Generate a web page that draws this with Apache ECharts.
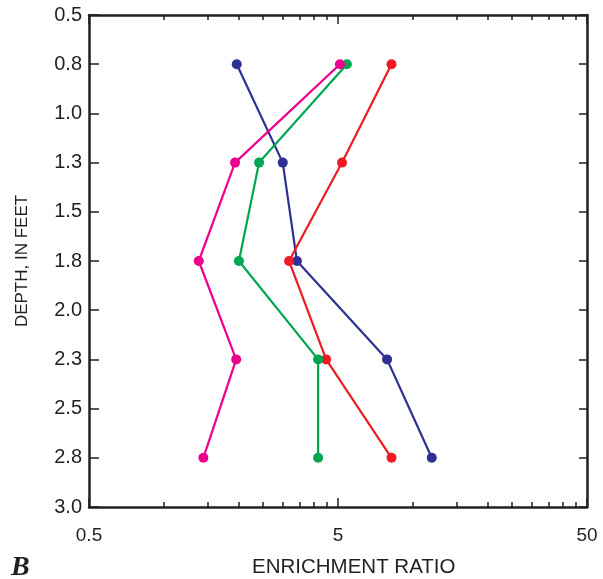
<!DOCTYPE html>
<html>
<head>
<meta charset="utf-8">
<script src="https://cdn.jsdelivr.net/npm/echarts@6/dist/echarts.min.js"></script>
<style>
  html, body { margin: 0; padding: 0; background: #fff; }
  #chart { width: 603px; height: 579px; }
</style>
</head>
<body>
<div id="chart"></div>
<script>
// Sampling depths (feet) and enrichment ratios for each series
const depths = [0.75, 1.25, 1.75, 2.25, 2.75];
const blueRatio = [1.96, 3.0, 3.42, 7.87, 11.9];
const redRatio = [8.2, 5.19, 3.18, 4.48, 8.2];
const greenRatio = [5.43, 2.41, 2.0, 4.16, 4.16];
const magentaRatio = [5.09, 1.93, 1.38, 1.95, 1.44];

// Axis ticks and labels
const depthTickLabels = ['0.5', '0.8', '1.0', '1.3', '1.5', '1.8', '2.0', '2.3', '2.5', '2.8', '3.0'];
const ratioLabels = [0.5, 5, 50];
const ratioMinorTicks = [1, 1.5, 2, 2.5, 3, 3.5, 4, 4.5, 10, 15, 20, 25, 30, 35, 40, 45];

const ink = '#231f20';
const font = '"Liberation Sans", Arial, sans-serif';

function pairs(vals) {
  return vals.map((v, i) => [v, depths[i]]);
}

function xAxisDef(position, major, showLabels) {
  return {
    type: 'log',
    logBase: 10,
    position: position,
    min: 0.5,
    max: 50,
    splitLine: { show: false },
    axisLine: { show: major, lineStyle: { color: ink, width: 2.5 } },
    axisTick: {
      show: true,
      inside: true,
      length: major ? 9 : 5,
      lineStyle: { color: ink, width: 1.5 },
      customValues: major ? ratioLabels : ratioMinorTicks
    },
    axisLabel: {
      show: showLabels,
      customValues: ratioLabels,
      margin: 19,
      color: ink,
      fontFamily: font,
      fontSize: 19,
      formatter: v => String(v)
    }
  };
}

function yAxisDef(position, showLabels) {
  return {
    type: 'value',
    position: position,
    inverse: true,
    min: 0.5,
    max: 3.0,
    interval: 0.25,
    splitLine: { show: false },
    axisLine: { show: true, lineStyle: { color: ink, width: 2.5 } },
    axisTick: { show: true, inside: true, length: showLabels ? 10 : 8, lineStyle: { color: ink, width: 1.5 } },
    axisLabel: {
      show: showLabels,
      margin: 7,
      color: ink,
      fontFamily: font,
      fontSize: 20,
      formatter: (v, i) => depthTickLabels[i]
    },
    name: showLabels ? 'DEPTH, IN FEET' : '',
    nameLocation: 'middle',
    nameGap: 58,
    nameRotate: 90,
    nameTextStyle: { color: ink, fontFamily: font, fontSize: 17 }
  };
}

function lineSeries(name, color, vals) {
  return {
    name: name,
    type: 'line',
    xAxisIndex: 0,
    yAxisIndex: 0,
    data: pairs(vals),
    symbol: 'circle',
    symbolSize: 10,
    lineStyle: { color: color, width: 2.2 },
    itemStyle: { color: color },
    silent: true,
    animation: false
  };
}

const chart = echarts.init(document.getElementById('chart'), null, { renderer: 'canvas' });
chart.setOption({
  animation: false,
  backgroundColor: '#ffffff',
  grid: { left: 89, right: 16, top: 15, bottom: 72, containLabel: false },
  xAxis: [
    xAxisDef('bottom', true, true),
    xAxisDef('bottom', false, false),
    xAxisDef('top', true, false),
    xAxisDef('top', false, false)
  ],
  yAxis: [
    yAxisDef('left', true),
    yAxisDef('right', false)
  ],
  series: [
    lineSeries('blue', '#2e3192', blueRatio),
    lineSeries('red', '#ed1c24', redRatio),
    lineSeries('green', '#00a651', greenRatio),
    lineSeries('magenta', '#ec008c', magentaRatio)
  ],
  graphic: [
    {
      type: 'text',
      left: 252,
      top: 557,
      style: { text: 'ENRICHMENT RATIO', fill: ink, font: '20.5px ' + font }
    },
    {
      type: 'text',
      left: 11,
      top: 554,
      style: { text: 'B', fill: ink, font: 'italic bold 28px "Liberation Serif", "DejaVu Serif", serif' }
    }
  ]
});
</script>
</body>
</html>
